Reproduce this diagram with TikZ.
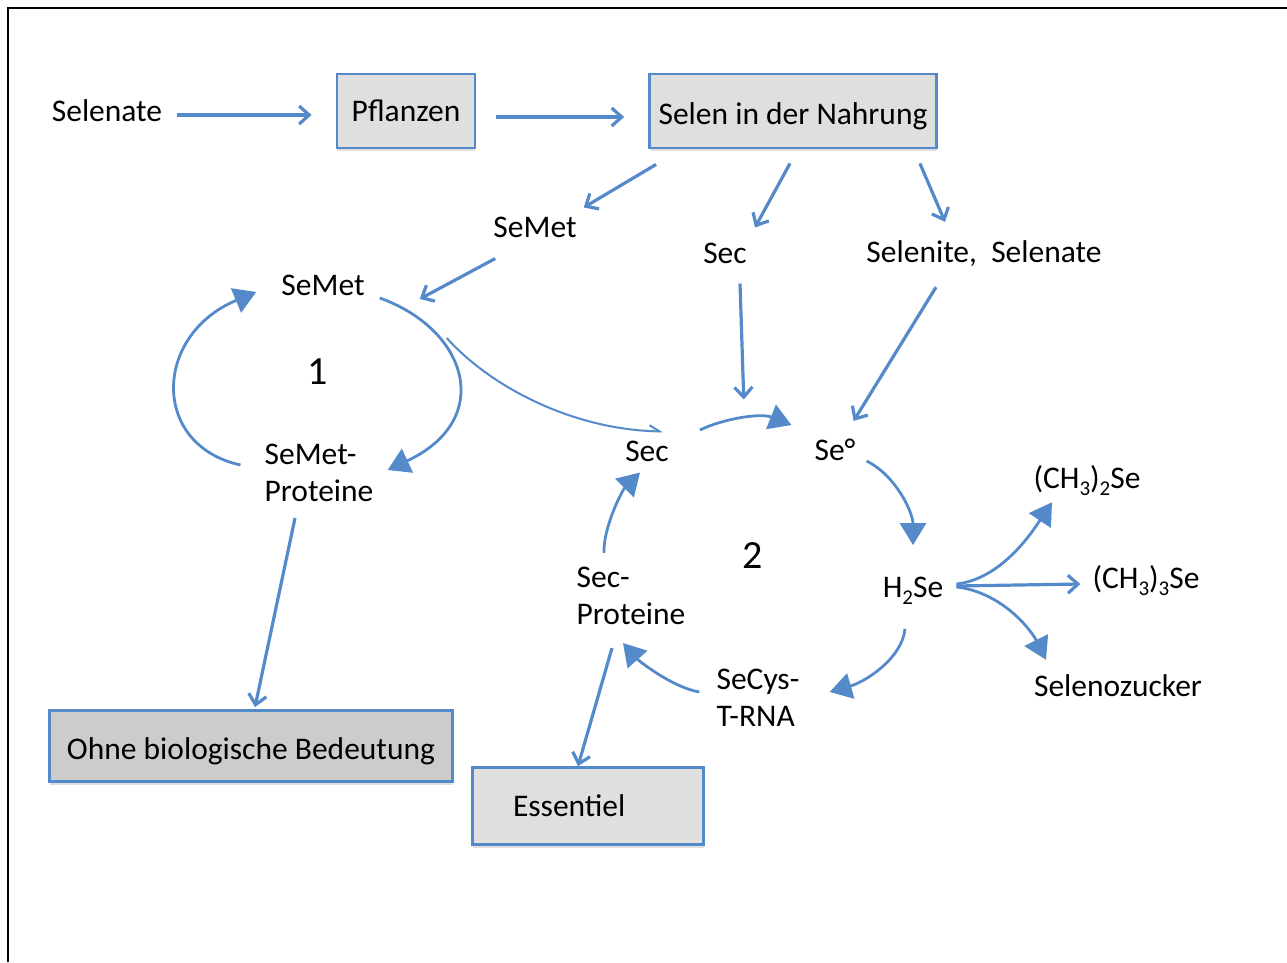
\documentclass[tikz,border=0pt]{standalone}
\usepackage{fontspec}
\setmainfont{Carlito}
\usepackage{tikz}
\usetikzlibrary{arrows.meta, shadows}

\definecolor{selblue}{RGB}{84,138,201}
\definecolor{boxgray}{RGB}{223,223,223}
\definecolor{boxdark}{RGB}{204,204,204}
\newcommand{\chemsub}[1]{\raisebox{-0.22em}{\fontsize{21}{21}\selectfont #1}}

\begin{document}
\begin{tikzpicture}[
      x=1pt, y=1pt,
      every node/.style = {font=\fontsize{31.5}{37}\selectfont, inner sep=0pt},
      txt/.style   = {align=left},
      box/.style   = {draw=selblue, line width=2.8pt, fill=boxgray,
                      drop shadow={shadow xshift=0pt, shadow yshift=-3pt, opacity=0.25}},
      num/.style   = {font=\fontsize{40}{40}\selectfont},
      flow/.style  = {-{Straight Barb[length=10pt,width=18pt]}, line width=3.2pt, selblue},
      fine/.style  = {-{Straight Barb[harpoon,length=10pt,width=12pt]}, line width=2pt, selblue},
      cyc/.style   = {-{Triangle[length=22pt,width=26pt]}, line width=2.8pt, selblue},
    ]
    \useasboundingbox (0,0) rectangle (1287,-962);
    \draw[line width=2.5pt] (8,-962) -- (8,-8) -- (1287,-8);

    % top row
    \node[txt] (selenate) at (107,-111) {Selenate};
    \node[box, minimum width=138, minimum height=74] (pflanzen) at (406,-111) {Pflanzen};
    \node[box, minimum width=287, minimum height=74, text height=27pt, text depth=0pt] (nahrung) at (793,-111) {Selen in der Nahrung};
    \node[txt] (semetA)   at (535,-227) {SeMet};
    \node[txt] (secA)     at (725,-253) {Sec};
    \node[txt] (selenite) at (984,-254) {Selenite,\ \ Selenate};

    % cycle 1
    \node[txt] (semet)     at (323,-285) {SeMet};
    \node[num] (one)       at (318,-372) {1};
    \node[txt] (semetprot) at (319,-473) {SeMet-\\Proteine};
    \node[box, fill=boxdark, minimum width=403, minimum height=71, text height=27pt, text depth=0pt] (ohne) at (251,-746) {Ohne biologische Bedeutung};

    % cycle 2
    \node[txt] (secB)    at (647,-451) {Sec};
    \node[txt] (seo)     at (835,-450) {Se°};
    \node[num] (two)     at (753,-556) {2};
    \node[txt] (hse)     at (913,-591) {H\chemsub{2}Se};
    \node[txt] (secys)   at (758,-698) {SeCys-\\T-RNA};
    \node[txt] (secprot) at (631,-596) {Sec-\\Proteine};
    \node[box, minimum height=77, text width=150, inner xsep=40.5, align=left] (essentiel) at (588,-806) {Essentiel};

    % products
    \node[txt] (dimethyl)  at (1087,-481) {(CH\chemsub{3})\chemsub{2}Se};
    \node[txt] (trimethyl) at (1146,-581) {(CH\chemsub{3})\chemsub{3}Se};
    \node[txt] (zucker)    at (1118,-686) {Selenozucker};

    % straight arrows
    \draw[flow] ([shift={(15,-4)}]selenate.east) -- ([shift={(-24,-4)}]pflanzen.west);
    \draw[flow] ([shift={(20,-6)}]pflanzen.east) -- ([shift={(-24,-6)}]nahrung.west);
    \draw[flow] ([shift={(8,-15)}]nahrung.south west) -- ([shift={(7,9)}]semetA.north east);
    \draw[flow] ([shift={(-3,-14)}]nahrung.south) -- ([shift={(30,15)}]secA.north);
    \draw[flow] ([shift={(-18,-14)}]nahrung.south east) -- ([shift={(-39,19)}]selenite.north);
    \draw[flow] ([shift={(2,-21)}]semetA.south west) -- ([shift={(55,-14)}]semet.east);
    \draw[flow] ([shift={(-24,-16)}]semetprot.south) -- ([shift={(4,2)}]ohne.north);
    \draw[flow] ([shift={(-48,-20)}]selenite.south) -- ([shift={(-2,18)}]seo.north east);
    \draw[flow] ([shift={(-19,-23)}]secprot.south) -- ([shift={(-10,0)}]essentiel.north);
    \draw[flow] ([shift={(13,5)}]hse.east) -- ([shift={(-12,-3)}]trimethyl.west);

    % cycle 1 arcs
    \draw[cyc] ([shift={(-24,8)}]semetprot.west) .. controls +(-90,20) and +(-103,-43) .. ([shift={(-25,-7)}]semet.west);
    \draw[cyc] ([shift={(15,-13)}]semet.east) .. controls +(89,-32) and +(107,50) .. ([shift={(14,3)}]semetprot.east);
    \draw[fine] ([shift={(82,-53)}]semet.east) .. controls +(42,-47) and +(-93,2) .. ([shift={(16,9)}]secB.north);

    % cycle 2 arcs
    \draw[cyc] ([shift={(31,21)}]secB.east) .. controls +(25,12) and +(-30,12) .. ([shift={(-23,25)}]seo.west)
      coordinate[pos=0.5] (secjoin);
    \draw[flow] ([shift={(15,-20)}]secA.south) -- ([yshift=19]secjoin);
    \draw[cyc] ([shift={(11,-11)}]seo.east) .. controls +(30,-15) and +(0,32) .. ([yshift=32]hse.north);
    \draw[cyc] ([shift={(-8,-24)}]hse.south) .. controls +(-3,-30) and +(35,10) .. ([shift={(30,6)}]secys.east);
    \draw[cyc] ([shift={(-17,6)}]secys.west) .. controls +(-28,5) and +(15,-17) .. ([shift={(-8,-18)}]secprot.south);
    \draw[cyc] ([shift={(-27,14)}]secprot.north) .. controls +(-1,25) and +(-18,-18) .. ([shift={(-7,-11)}]secB.south);

    % methylation
    \draw[cyc] ([shift={(13,7)}]hse.east) .. controls +(45,5) and +(-20,-30) .. ([shift={(-35,-6)}]dimethyl.south);
    \draw[cyc] ([shift={(13,4)}]hse.east) .. controls +(45,-5) and +(-15,30) .. ([shift={(-72,15)}]zucker.north);
  \end{tikzpicture}
\end{document}
